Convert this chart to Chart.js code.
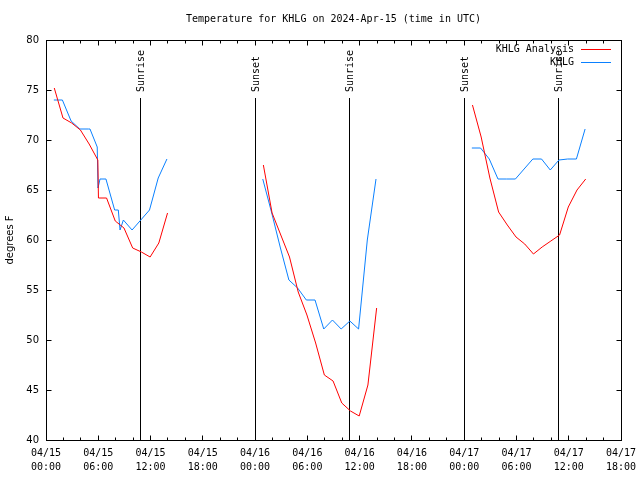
<!DOCTYPE html>
<html><head><meta charset="utf-8">
<script src="https://cdn.jsdelivr.net/npm/chart.js@4/dist/chart.umd.min.js"></script>
<style>html,body{margin:0;padding:0;background:#fff}</style>
</head><body>
<canvas id="c" width="640" height="480"></canvas>
<script>
const titleText = 'Temperature for KHLG on 2024-Apr-15 (time in UTC)';
const yAxisLabel = 'degrees F';
const seriesNames = ['KHLG Analysis', 'KHLG'];
const tickDates = ['04/15','04/15','04/15','04/15','04/16','04/16','04/16','04/16','04/17','04/17','04/17','04/17'];
const tickTimes = ['00:00','06:00','12:00','18:00','00:00','06:00','12:00','18:00','00:00','06:00','12:00','18:00'];
const yTicks = [40, 45, 50, 55, 60, 65, 70, 75, 80];

// hours since 04/15 00:00 UTC ; null temp = gap
const analysisHours = [0.95,1.95,2.95,3.95,4.95,5.95,6.02,6.95,7.95,8.95,9.95,10.95,11.95,12.95,13.95,
  19,
  24.95,25.95,26.95,27.95,28.95,29.95,30.95,31.95,32.95,33.95,34.95,35.95,36.95,37.95,
  43,
  48.95,49.95,50.95,51.95,52.95,53.95,54.95,55.95,56.95,57.95,58.95,59.95,60.95,61.95];
const analysisTemps = [75.2,72.2,71.7,71.0,69.6,68.0,64.2,64.2,61.9,61.2,59.2,58.8,58.3,59.7,62.7,
  null,
  67.5,62.7,60.5,58.3,54.8,52.5,49.7,46.5,45.9,43.7,42.9,42.4,45.5,53.2,
  null,
  73.5,70.3,66.2,62.8,61.5,60.3,59.6,58.6,59.3,59.9,60.5,63.3,65.0,66.1];

const obsHours = [0.9,1.88,2.88,3.88,4.88,5.05,5.88,5.97,6.2,6.88,7.88,8.3,8.5,8.88,9.88,10.88,11.88,12.88,13.88,
  19,
  24.88,25.88,26.88,27.88,28.88,29.88,30.88,31.88,32.88,33.88,34.88,35.88,36.88,37.88,
  43,
  48.88,49.88,50.88,51.88,52.88,53.88,54.88,55.88,56.88,57.88,58.88,59.88,60.88,61.88];
const obsTemps = [74.0,74.0,71.9,71.1,71.1,71.1,69.3,65.2,66.1,66.1,63.0,63.0,61.0,62.0,61.0,62.0,63.0,66.2,68.1,
  null,
  66.1,62.8,59.3,56.0,55.2,54.0,54.0,51.1,52.0,51.1,51.9,51.1,60.0,66.1,
  null,
  69.2,69.2,68.1,66.1,66.1,66.1,67.1,68.1,68.1,67.0,68.0,68.1,68.1,71.1];

const sunHours = [10.85, 23.99, 34.85, 47.99, 58.8];
const sunNames = ['Sunrise','Sunset','Sunrise','Sunset','Sunrise'];

const colors = ['#ff0000', '#0a80ff'];
const MONO = '"DejaVu Sans Mono", "Liberation Mono", monospace';
const SANS = '"DejaVu Sans", "Liberation Sans", sans-serif';

function pts(xs, ys){ return xs.map((x,i)=>({x:x, y:ys[i]})); }

const crisp = v => Math.floor(v) + 0.5;

const decor = {
  id: 'decor',
  beforeDatasetsDraw(chart){
    const ctx = chart.ctx, a = chart.chartArea, xs = chart.scales.x;
    const h = a.bottom - a.top;
    ctx.save();
    ctx.strokeStyle = '#000'; ctx.lineWidth = 1; ctx.fillStyle = '#000';
    ctx.font = '10px ' + MONO;
    sunHours.forEach((t,i)=>{
      const px = crisp(xs.getPixelForValue(t));
      ctx.beginPath();
      ctx.moveTo(px, a.bottom);
      ctx.lineTo(px, Math.round(a.bottom - 0.855*h));
      ctx.stroke();
      ctx.save();
      ctx.translate(px + 0.5, a.bottom - 0.87*h);
      ctx.rotate(-Math.PI/2);
      ctx.textAlign = 'left'; ctx.textBaseline = 'middle';
      ctx.fillText(sunNames[i], 0, 0);
      ctx.restore();
    });
    ctx.restore();
  },
  afterDraw(chart){
    const ctx = chart.ctx, a = chart.chartArea, xs = chart.scales.x, ys = chart.scales.y;
    ctx.save();
    ctx.strokeStyle = '#000'; ctx.lineWidth = 1; ctx.fillStyle = '#000';
    const L = crisp(a.left), R = crisp(a.right), T = crisp(a.top), B = crisp(a.bottom);
    ctx.strokeRect(L, T, R - L, B - T);
    ctx.beginPath();
    for (let hr = xs.min; hr <= xs.max; hr += 2) {
      const px = crisp(xs.getPixelForValue(hr));
      const len = (hr % 6 === 0) ? 5 : 3;
      ctx.moveTo(px, B); ctx.lineTo(px, B - len);
      ctx.moveTo(px, T); ctx.lineTo(px, T + len);
    }
    yTicks.forEach(v=>{
      const py = crisp(ys.getPixelForValue(v));
      ctx.moveTo(L, py); ctx.lineTo(L + 5, py);
      ctx.moveTo(R, py); ctx.lineTo(R - 5, py);
    });
    ctx.stroke();
    ctx.font = '10px ' + MONO;
    ctx.textAlign = 'center'; ctx.textBaseline = 'middle';
    ctx.fillText(titleText, (a.left + a.right)/2, 19);
    ctx.save();
    ctx.translate(10, (a.top + a.bottom)/2);
    ctx.rotate(-Math.PI/2);
    ctx.font = '10px ' + SANS;
    ctx.fillText(yAxisLabel, 0, 0);
    ctx.restore();
    ctx.font = '10px ' + MONO;
    ctx.textAlign = 'right'; ctx.textBaseline = 'middle';
    seriesNames.forEach((n,i)=>{
      const y = 49 + i*13;
      ctx.fillStyle = '#000';
      ctx.fillText(n, 574, y);
      ctx.strokeStyle = colors[i];
      ctx.beginPath(); ctx.moveTo(581, y + 0.5); ctx.lineTo(611, y + 0.5); ctx.stroke();
    });
    ctx.restore();
  }
};

new Chart(document.getElementById('c'), {
  type: 'scatter',
  data: {
    datasets: [
      { label: seriesNames[0], data: pts(analysisHours, analysisTemps), showLine: true, borderColor: colors[0], backgroundColor: colors[0], borderWidth: 1, pointRadius: 0, tension: 0, spanGaps: false },
      { label: seriesNames[1], data: pts(obsHours, obsTemps), showLine: true, borderColor: colors[1], backgroundColor: colors[1], borderWidth: 1, pointRadius: 0, tension: 0, spanGaps: false }
    ]
  },
  options: {
    responsive: false, animation: false, devicePixelRatio: 1,
    layout: { padding: { top: 40, right: 19, left: 0, bottom: 0 } },
    plugins: { legend: { display: false }, title: { display: false }, tooltip: { enabled: false } },
    scales: {
      x: {
        type: 'linear', min: 0, max: 66,
        afterFit: s => { s.height = 40; s.paddingLeft = 0; s.paddingRight = 0; },
        afterBuildTicks: s => { s.ticks = tickDates.map((d,i)=>({value: i*6})); },
        ticks: {
          stepSize: 6, autoSkip: false, maxRotation: 0, minRotation: 0, padding: 6, color: '#000',
          font: { family: MONO, size: 10, lineHeight: 1.4 },
          callback: (v) => [tickDates[Math.round(v/6)], tickTimes[Math.round(v/6)]]
        },
        grid: { display: true, drawOnChartArea: false, drawTicks: false },
        border: { display: false }
      },
      y: {
        type: 'linear', min: 40, max: 80,
        afterFit: s => { s.width = 46; s.paddingTop = 0; s.paddingBottom = 0; },
        afterBuildTicks: s => { s.ticks = yTicks.map(v=>({value: v})); },
        ticks: { stepSize: 5, padding: 7, color: '#000', font: { family: SANS, size: 10 } },
        grid: { display: true, drawOnChartArea: false, drawTicks: false },
        border: { display: false }
      }
    }
  },
  plugins: [decor]
});
</script>
</body></html>
